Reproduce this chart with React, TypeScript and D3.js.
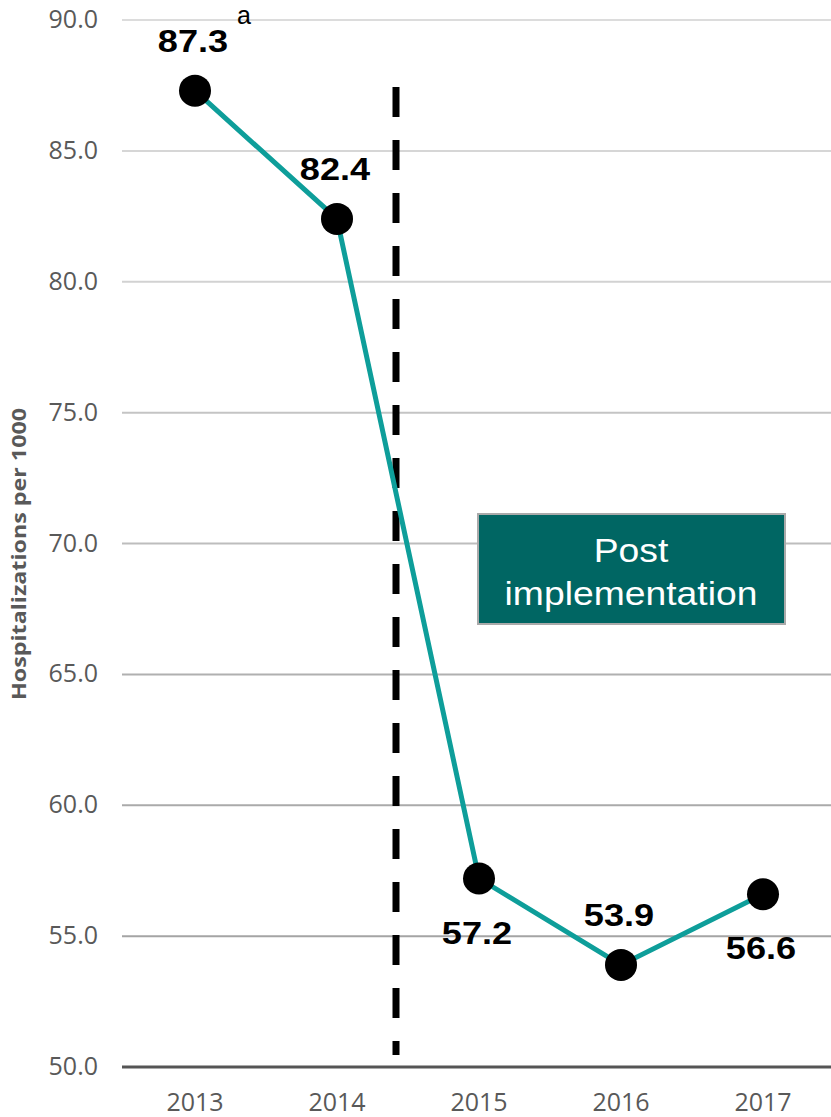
import React from "react";
import * as d3 from "d3";

const years = ["2013", "2014", "2015", "2016", "2017"];
const values = [87.3, 82.4, 57.2, 53.9, 56.6];
const yTicks = [50, 55, 60, 65, 70, 75, 80, 85, 90];
const labelOffsets = [-39, -39, 65, -39, 65];
const gridColors: Record<number, string> = {
  90: "#dcdcdc", 85: "#d6d6d6", 80: "#d2d2d2", 75: "#c4c4c4", 70: "#bdbdbd",
  65: "#b0b0b0", 60: "#aaaaaa", 55: "#a4a4a4",
};

const W = 831;
const H = 1117;

export default function App() {
  const x = d3.scaleBand<string>().domain(years).range([124, 834]).padding(0);
  const y = d3.scaleLinear().domain([50, 90]).range([1067, 20]);
  const cx = (yr: string) => (x(yr) as number) + x.bandwidth() / 2;
  const line = d3
    .line<number>()
    .x((_, i) => cx(years[i]))
    .y((v) => y(v));
  const dashX = (x("2014") as number) + x.bandwidth() * 1.0;
  const font = "Arial, 'Liberation Sans', sans-serif";
  const tickFont = "'Open Sans', 'Noto Sans', sans-serif";

  return (
    <svg width={W} height={H} style={{ position: "absolute", left: 0, top: 0 }}>
      <rect x={0} y={0} width={W} height={H} fill="#fff" />
      {yTicks.filter((t) => t !== 50).map((t) => (
        <line key={t} x1={122} x2={W} y1={y(t)} y2={y(t)} stroke={gridColors[t]} strokeWidth={2} />
      ))}
      {yTicks.map((t) => (
        <text key={"l" + t} x={98} y={y(t) + 8} textAnchor="end" fontFamily={tickFont} fontSize={25} fill="#595959">
          {t.toFixed(1)}
        </text>
      ))}
      <line x1={122} x2={W} y1={y(50)} y2={y(50)} stroke="#555" strokeWidth={3} />
      {years.map((yr) => (
        <text key={yr} x={cx(yr)} y={1111} textAnchor="middle" fontFamily={tickFont} fontSize={25} fill="#595959">
          {yr}
        </text>
      ))}
      <text
        transform={`translate(26, ${y(69.6)}) rotate(-90)`}
        textAnchor="middle"
        fontFamily={tickFont}
        fontWeight="bold"
        fontSize={19}
        textLength={292}
        lengthAdjust="spacingAndGlyphs"
        fill="#595959"
      >
        Hospitalizations per 1000
      </text>
      <line
        x1={dashX - 12}
        x2={dashX - 12}
        y1={87}
        y2={1055}
        stroke="#000"
        strokeWidth={7}
        strokeDasharray="30 23"
      />
      <rect x={478} y={514} width={307} height={110} fill="#006663" stroke="#aaa" strokeWidth={2} />
      <g transform="translate(631, 0) scale(1.13, 1)">
        <text x={0} y={562} textAnchor="middle" fontFamily={font} fontSize={33} fill="#fff">Post</text>
        <text x={0} y={605} textAnchor="middle" fontFamily={font} fontSize={33} fill="#fff">implementation</text>
      </g>
      <path d={line(values) || ""} fill="none" stroke="#0e9e9a" strokeWidth={5} />
      {values.map((v, i) => (
        <circle key={i} cx={cx(years[i])} cy={y(v)} r={16} fill="#000" />
      ))}
      {values.map((v, i) => (
        <g key={"v" + i} transform={`translate(${cx(years[i]) - 2}, ${y(v) + labelOffsets[i]}) scale(1.13, 1)`}>
          <text
            x={0}
            y={0}
            textAnchor="middle"
            fontFamily={font}
            fontWeight="bold"
            fontSize={32}
            fill="#000"
          >
            {v.toFixed(1)}
          </text>
        </g>
      ))}
      <text x={237} y={24} fontFamily={font} fontSize={25} fill="#000">a</text>
    </svg>
  );
}
